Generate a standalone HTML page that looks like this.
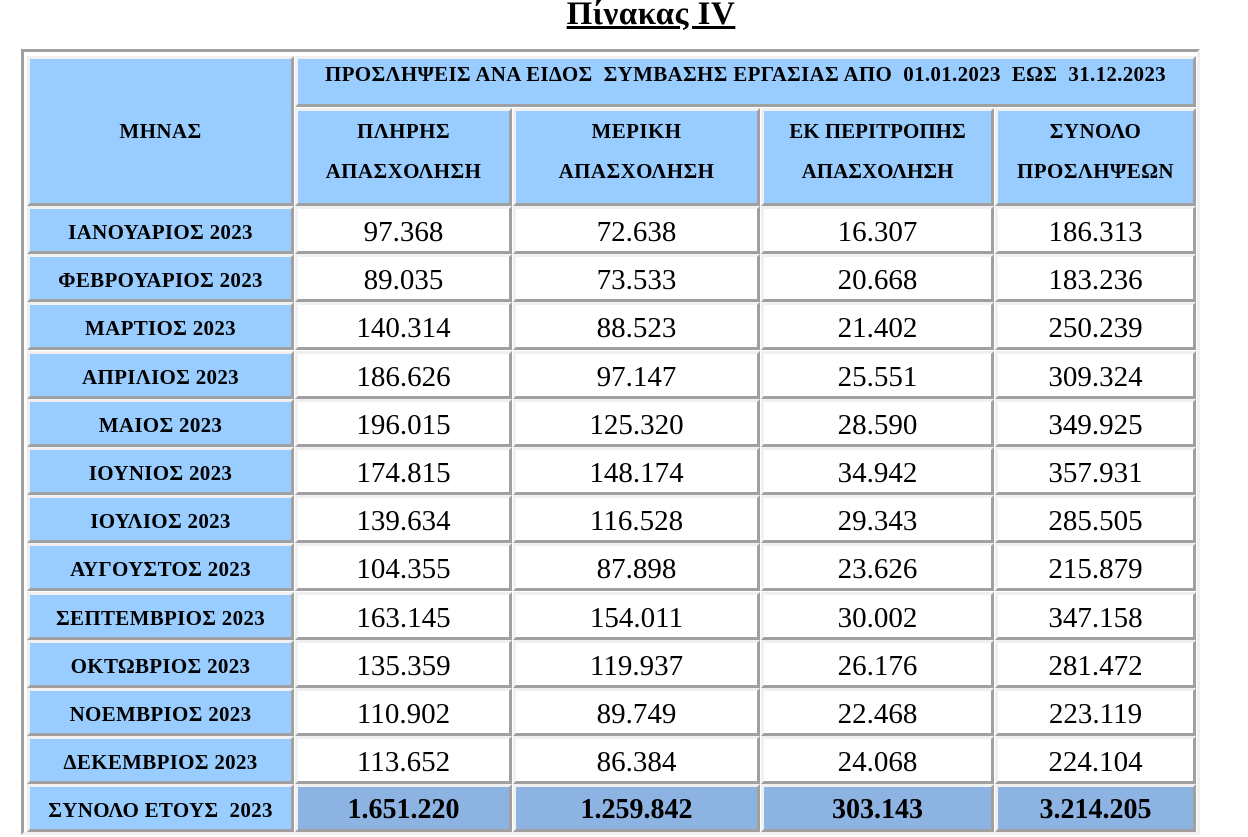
<!DOCTYPE html>
<html><head><meta charset="utf-8"><style>
body{margin:0;width:1248px;height:837px;background:#fff;position:relative;overflow:hidden;font-family:"Liberation Serif","DejaVu Serif",serif;}
.t{position:absolute;left:0;width:1302px;top:-4px;text-align:center;font-size:33px;font-weight:bold;letter-spacing:0.5px;}
.t span{text-decoration:underline;text-decoration-thickness:3px;}
.o{position:absolute;left:21px;top:49px;width:1173px;height:780px;border:3px solid;border-color:#a0a0a0 #f0f0f0 #f0f0f0 #a0a0a0;}
.c{position:absolute;box-sizing:border-box;border:3px solid;border-color:#f0f0f0 #a0a0a0 #a0a0a0 #f0f0f0;text-align:center;color:#000;white-space:nowrap;}
.h{background:#99ccff;font-weight:bold;font-size:21px;letter-spacing:0.4px;}
.m{background:#99ccff;font-weight:bold;font-size:21px;letter-spacing:0.3px;}
.n{background:#fff;font-size:29px;}
.tot{background:#8db3e2;font-weight:bold;font-size:28px;}
</style></head><body>
<div class="t"><span>Πίνακας IV</span></div>
<div class="o"></div>
<div id="g"></div>
<script>
var X=[[27,294],[295,512],[513,760],[761,994],[995,1196]];
var H='';
function cell(x0,x1,y0,y1,cls,html,lh,pt,st){H+='<div class="c '+cls+'" style="left:'+x0+'px;width:'+(x1-x0)+'px;top:'+y0+'px;height:'+(y1-y0)+'px;line-height:'+lh+'px;padding-top:'+pt+'px;'+(st||'')+'">'+html+'</div>';}
cell(27,294,56,206,'h','ΜΗΝΑΣ',20,62);
cell(295,1196,56,107,'h','ΠΡΟΣΛΗΨΕΙΣ ΑΝΑ ΕΙΔΟΣ &nbsp;ΣΥΜΒΑΣΗΣ ΕΡΓΑΣΙΑΣ ΑΠΟ &nbsp;01.01.2023 &nbsp;ΕΩΣ &nbsp;31.12.2023',20,5,'letter-spacing:0.3px');
var hd=['ΠΛΗΡΗΣ<br>ΑΠΑΣΧΟΛΗΣΗ','ΜΕΡΙΚΗ<br>ΑΠΑΣΧΟΛΗΣΗ','ΕΚ ΠΕΡΙΤΡΟΠΗΣ<br>ΑΠΑΣΧΟΛΗΣΗ','ΣΥΝΟΛΟ<br>ΠΡΟΣΛΗΨΕΩΝ'];
for(var i=0;i<4;i++)cell(X[i+1][0],X[i+1][1],108,206,'h',hd[i],40,0,i==2?'letter-spacing:0px':'');
var D=[['ΙΑΝΟΥΑΡΙΟΣ 2023','97.368','72.638','16.307','186.313'],
['ΦΕΒΡΟΥΑΡΙΟΣ 2023','89.035','73.533','20.668','183.236'],
['ΜΑΡΤΙΟΣ 2023','140.314','88.523','21.402','250.239'],
['ΑΠΡΙΛΙΟΣ 2023','186.626','97.147','25.551','309.324'],
['ΜΑΙΟΣ 2023','196.015','125.320','28.590','349.925'],
['ΙΟΥΝΙΟΣ 2023','174.815','148.174','34.942','357.931'],
['ΙΟΥΛΙΟΣ 2023','139.634','116.528','29.343','285.505'],
['ΑΥΓΟΥΣΤΟΣ 2023','104.355','87.898','23.626','215.879'],
['ΣΕΠΤΕΜΒΡΙΟΣ 2023','163.145','154.011','30.002','347.158'],
['ΟΚΤΩΒΡΙΟΣ 2023','135.359','119.937','26.176','281.472'],
['ΝΟΕΜΒΡΙΟΣ 2023','110.902','89.749','22.468','223.119'],
['ΔΕΚΕΜΒΡΙΟΣ 2023','113.652','86.384','24.068','224.104'],
['ΣΥΝΟΛΟ ΕΤΟΥΣ &nbsp;2023','1.651.220','1.259.842','303.143','3.214.205']];
for(var r=0;r<13;r++){var y0=206+Math.round(r*48.2),y1=y0+48;
 for(var c=0;c<5;c++){var cls=c==0?'m':(r==12?'tot':'n');
  cell(X[c][0],X[c][1],y0,y1,cls,D[r][c],c==0?22:32,c==0?12:7,'');}}
document.getElementById('g').innerHTML=H;
</script>
</body></html>
